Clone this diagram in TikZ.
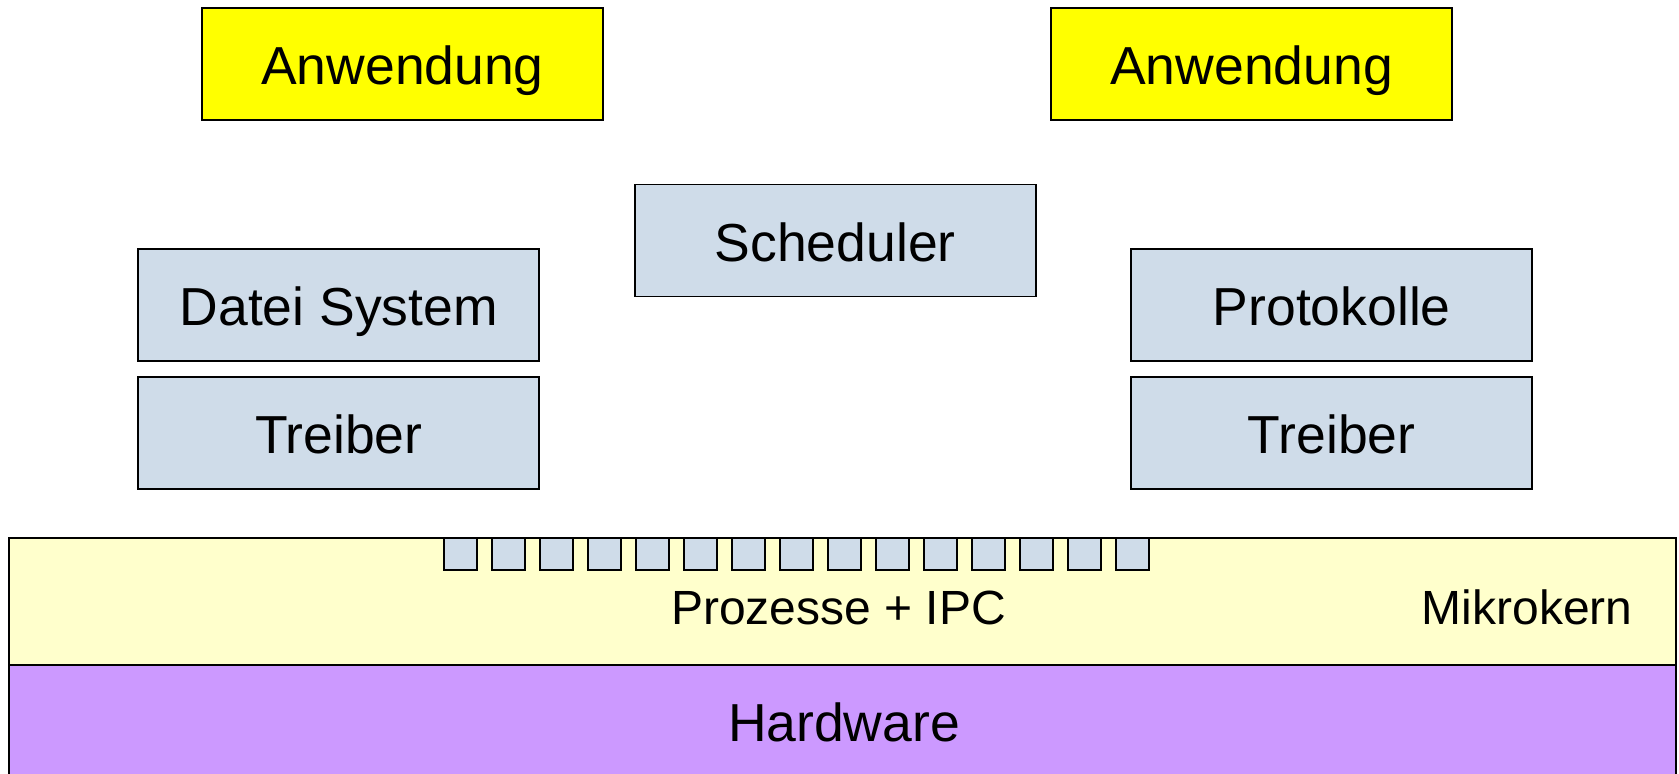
\documentclass[tikz,border=0pt]{standalone}
\usepackage{fontspec}
\setmainfont{Liberation Sans}
\definecolor{appyellow}{HTML}{FFFF00}
\definecolor{srvblue}{HTML}{CFDCE9}
\definecolor{kernyellow}{HTML}{FFFFCC}
\definecolor{hwpurple}{HTML}{CC99FF}
\begin{document}
\begin{tikzpicture}[x=0.5pt,y=-0.5pt,
  big/.style={font=\fontsize{26.75}{32}\selectfont},
  small/.style={font=\fontsize{24}{29}\selectfont},
  layerbox/.style={draw=black, line width=0.9pt, rectangle, inner sep=0pt,
    minimum width=200.5pt, minimum height=56pt,
    text height=20.6pt, text depth=0pt, big},
  appbox/.style={layerbox, fill=appyellow},
  srvbox/.style={layerbox, fill=srvblue},
  ipcbox/.style={draw=black, line width=0.9pt, fill=srvblue, rectangle,
    inner sep=0pt, minimum width=16.5pt, minimum height=16.2pt, anchor=north west},
  band/.style={draw=black, line width=1pt, rectangle, inner sep=0pt, anchor=north west}
]
\useasboundingbox (0,0) rectangle (1679,773);

% hardware and microkernel layers
\node[band, fill=hwpurple, minimum width=833.5pt, minimum height=70pt] (hw) at (8,664.3) {};
\node[band, fill=kernyellow, minimum width=833.5pt, minimum height=63.8pt] (kern) at (8,536.7) {};

% process slots on top of the kernel
\foreach \i in {0,...,14}
  \node[ipcbox] (ipc\i) at ({442.7+48*\i},536.7) {};

\node[small, anchor=base, inner sep=0pt] (ipclabel) at (838.5,624.3) {Prozesse + IPC};
\node[small, anchor=base east, inner sep=0pt] (kernlabel) at (1633,624.3) {Mikrokern};
\node[big, anchor=base, inner sep=0pt] (hwlabel) at (844,741.7) {Hardware};

% applications
\node[appbox] (appL) at (402.5,64.3) {Anwendung};
\node[appbox] (appR) at (1251.5,64.3) {Anwendung};

% user-level servers
\node[srvbox] (sched) at (835.2,240.4) {Scheduler};
\node[srvbox] (fs) at (338.8,304.7) {Datei System};
\node[srvbox] (drvL) at (338.8,433) {Treiber};
\node[srvbox] (proto) at (1331.7,304.7) {Protokolle};
\node[srvbox] (drvR) at (1331.7,433) {Treiber};
\end{tikzpicture}
\end{document}
